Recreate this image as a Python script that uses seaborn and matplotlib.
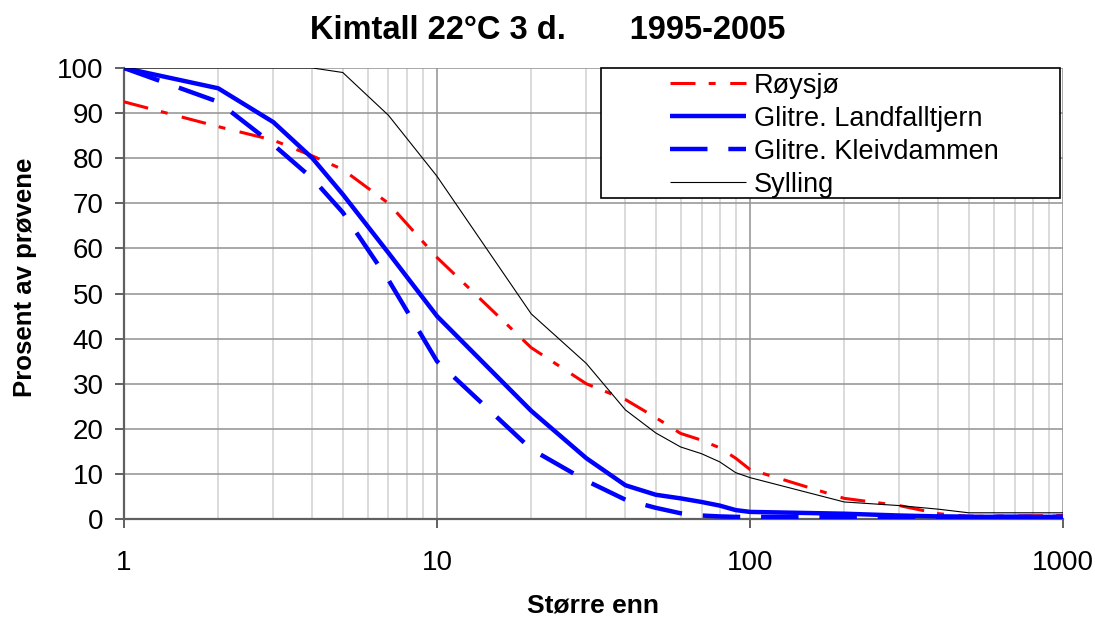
import seaborn as sns
import numpy as np
import pandas as pd
import matplotlib.pyplot as plt
from matplotlib.patches import Rectangle
from matplotlib.ticker import FixedLocator, FuncFormatter, LogLocator, NullFormatter

# thresholds ("større enn") and percentage of samples above each
storre_enn = [1, 2, 3, 4, 5, 7, 10, 20, 30, 40, 50, 60, 70, 80, 90, 100, 200, 300, 400, 500, 1000]
roysjo = [92.5, 87, 84, 80.5, 77.5, 70, 58, 38, 30, 26.5, 22.5, 19, 17.5, 15.8, 13.5, 11,
          4.6, 3.0, 1.2, 0.6, 0.8]
landfalltjern = [100, 95.5, 88, 80, 72, 59, 45, 24, 13.5, 7.5, 5.4, 4.6, 3.8, 3.0, 2.0, 1.6,
                 1.2, 0.8, 0.6, 0.5, 0.5]
kleivdammen = [100, 92.5, 83, 75.5, 68, 53, 35, 15.5, 8.5, 4.3, 2.5, 1.3, 0.8, 0.6, 0.5, 0.5,
               0.5, 0.5, 0.5, 0.5, 0.5]
sylling = [100, 100, 100, 100, 99, 89.5, 76, 45.5, 34.5, 24.2, 19.1, 16, 14.5, 12.7, 10.3, 9.2,
           3.8, 3.0, 2.2, 1.4, 1.4]

series_names = ["Røysjø", "Glitre. Landfalltjern", "Glitre. Kleivdammen", "Sylling"]
series_values = [roysjo, landfalltjern, kleivdammen, sylling]
series_style = {
    "Røysjø": dict(color="#ff0000", lw=2.2, ls=(0, (18, 9.5, 5, 10.5))),
    "Glitre. Landfalltjern": dict(color="#0000ff", lw=3.2, ls="-"),
    "Glitre. Kleivdammen": dict(color="#0000ff", lw=3.2, ls=(0, (27, 15))),
    "Sylling": dict(color="black", lw=0.8, ls="-"),
}

df = pd.DataFrame({"x": storre_enn})
for name, vals in zip(series_names, series_values):
    df[name] = vals

sns.set_style("white")
plt.rcParams["font.family"] = ["Liberation Sans", "DejaVu Sans"]
plt.rcParams["lines.scale_dashes"] = False
plt.rcParams["text.color"] = "black"
plt.rcParams["axes.labelcolor"] = "black"

fig = plt.figure(figsize=(10.95, 6.18), dpi=100)
ax = fig.add_axes([0.1132, 0.160, 0.8576, 0.730])

for name in series_names:
    st = series_style[name]
    sns.lineplot(data=df, x="x", y=name, ax=ax, color=st["color"], linewidth=st["lw"],
                 linestyle=st["ls"], label=name, zorder=3, solid_capstyle="butt",
                 dash_capstyle="butt")

ax.set_xscale("log")
ax.set_xlim(1, 1000)
ax.set_ylim(0, 100)

# grid like the spreadsheet chart
ax.xaxis.set_major_locator(FixedLocator([1, 10, 100, 1000]))
ax.xaxis.set_major_formatter(FuncFormatter(lambda v, _: f"{int(round(v))}"))
ax.xaxis.set_minor_locator(LogLocator(base=10, subs=np.arange(2, 10)))
ax.xaxis.set_minor_formatter(NullFormatter())
ax.set_yticks(np.arange(0, 101, 10))
ax.grid(which="minor", axis="x", color="#d4d4d4", lw=1.2)
ax.grid(which="major", axis="x", color="#999999", lw=1.2)
ax.grid(which="major", axis="y", color="#999999", lw=1.2)
ax.set_axisbelow(True)

for side in ["top", "right"]:
    ax.spines[side].set_visible(False)
for side in ["left", "bottom"]:
    ax.spines[side].set_color("#606060")
    ax.spines[side].set_linewidth(1.6)

ax.tick_params(axis="x", which="major", direction="out", length=6.5, width=1.4,
               color="#606060", labelcolor="black", labelsize=20, pad=16, bottom=True)
ax.tick_params(axis="x", which="minor", length=0)
ax.tick_params(axis="y", direction="out", length=6.5, width=1.4, color="#606060",
               labelcolor="black", labelsize=20, pad=8, left=True)

ax.set_xlabel("Større enn", fontsize=19, fontweight="bold", va="top")
ax.xaxis.set_label_coords(0.5, -0.164)
ax.set_ylabel("Prosent av prøvene", fontsize=18.5, fontweight="bold", va="center")
ax.yaxis.set_label_coords(-0.105, 0.537)

fig.text(0.5, 0.95, "Kimtall 22°C 3 d.       1995-2005", ha="center", va="center",
         fontsize=23.5, fontweight="bold")

# legend box
ax.add_patch(Rectangle((0.508, 0.712), 0.489, 0.288, transform=ax.transAxes,
                       facecolor="white", edgecolor="black", lw=1.2, zorder=5, clip_on=False))
leg = ax.legend(loc="upper left", bbox_to_anchor=(0.5815, 0.9895), frameon=False,
                fontsize=19.5, handlelength=2.8, handletextpad=0.3, labelspacing=0.26,
                borderpad=0, borderaxespad=0)
leg.set_zorder(6)

fig.savefig("out.png", dpi=100)
